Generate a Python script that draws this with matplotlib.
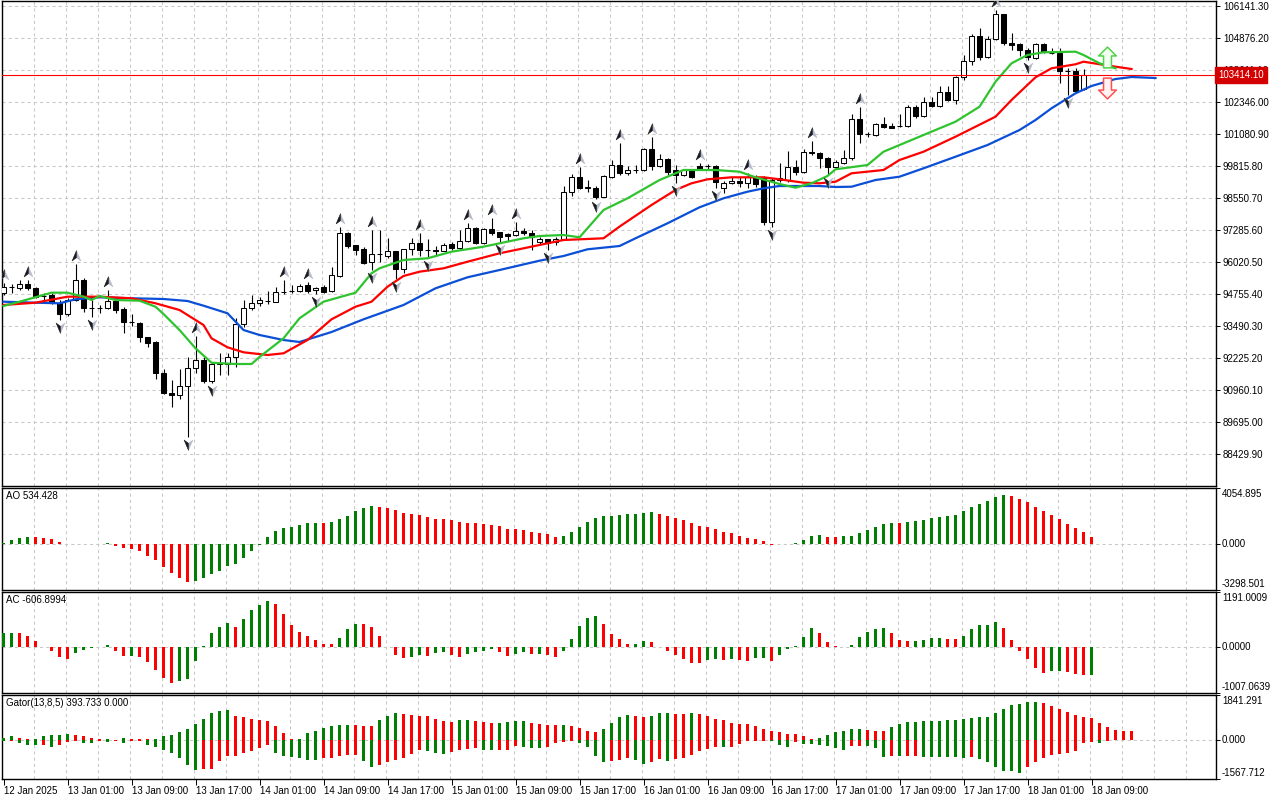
import numpy as np
import matplotlib
matplotlib.use("Agg")
import matplotlib.pyplot as plt
from matplotlib.path import Path
from matplotlib.transforms import offset_copy, blended_transform_factory

plt.rcParams['font.family'] = ['Liberation Sans', 'DejaVu Sans']
plt.rcParams['font.size'] = 7

# ---- hourly candles, 12 Jan 17:00 .. 18 Jan 09:00 ----
opens = [94783, 95030, 94981, 95151, 94981, 94690, 94716, 94400, 93965, 94518,
         95309, 94190, 94210, 94214, 94479, 94162, 93649, 93621, 93055, 92870,
         91633, 90854, 90751, 91119, 91818, 92146, 91328, 92028, 91988, 92277,
         93569, 94190, 94388, 94479, 94451, 94846, 94880, 94874, 95112, 94914,
         95020, 94874, 95467, 97156, 96693, 96523, 96009, 96325, 96270, 96456,
         95732, 96523, 96760, 96495, 96510, 96467, 96720, 96562, 96863, 97353,
         96783, 97326, 97195, 97116, 97088, 97258, 97179, 96799, 96918, 96800,
         96918, 98776, 99393, 98958, 98958, 98602, 99393, 99855, 99527, 99650,
         99658, 100476, 99828, 100080, 99658, 99460, 99658, 99828, 99820, 99828,
         98935, 99132, 99235, 99132, 99393, 99330, 97614, 99262, 99262, 99788,
         99567, 100369, 100318, 100120, 99788, 99946, 100120, 101674, 101069, 101041,
         101464, 101397, 101390, 101397, 102137, 101793, 102334, 102200, 102730, 102425,
         103322, 103979, 104955, 104113, 104825, 105825, 104690, 104627, 104402, 104074,
         104627, 104295, 104295, 103572, 103583, 102848, 103414.1]
highs = [95190, 95151, 95309, 95309, 95020, 94783, 94795, 94518, 94590, 95942,
         95390, 94518, 94330, 94914, 94518, 94240, 93965, 93649, 93070, 92900,
         91790, 91356, 91791, 92277, 93095, 92277, 92080, 92423, 92440, 93807,
         94518, 94716, 94620, 94886, 95044, 95309, 95112, 95151, 95240, 95044,
         95112, 95811, 97393, 97220, 96693, 96620, 97286, 97286, 96958, 96456,
         96523, 96958, 97179, 96918, 96653, 96760, 96820, 97286, 97550, 97393,
         97353, 97750, 97220, 97179, 97590, 97353, 97270, 97021, 96918, 97021,
         99025, 99500, 99788, 99262, 99025, 99460, 100050, 100713, 99800, 99855,
         100516, 100950, 100300, 100120, 99855, 99685, 99685, 99920, 99880, 99855,
         99220, 99393, 99369, 99527, 99460, 99430, 99330, 99920, 100421, 100050,
         100476, 100816, 100380, 100184, 100050, 100450, 101860, 102137, 101170, 101500,
         101770, 101530, 101860, 102230, 102230, 102555, 102555, 102990, 102990, 103375,
         104204, 105022, 105260, 104955, 105983, 105825, 105062, 104690, 104470, 104667,
         104667, 104470, 104470, 103680, 103680, 103640, 103430]
lows = [94716, 94795, 94914, 94914, 94580, 94518, 94360, 93728, 93900, 94479,
        94056, 93858, 94000, 94180, 94000, 93225, 93490, 92870, 92660, 91384,
        90820, 90277, 90605, 89115, 91633, 91250, 91250, 91554, 91554, 91882,
        93451, 94123, 94280, 94360, 94440, 94750, 94807, 94846, 94807, 94750,
        94807, 94830, 95440, 96562, 96297, 95942, 95705, 96020, 96170, 95337,
        95570, 96297, 96260, 96170, 96260, 96456, 96495, 96523, 96820, 96730,
        96730, 97088, 96799, 96863, 97061, 97088, 96495, 96693, 96495, 96693,
        96890, 98630, 98900, 98800, 98500, 98580, 99330, 99460, 99460, 99551,
        99620, 99658, 99788, 99460, 99132, 99430, 99330, 99658, 99658, 98935,
        98730, 99104, 99000, 98935, 99000, 97484, 97416, 99195, 99195, 99460,
        99527, 100250, 99725, 99460, 99725, 99900, 100050, 100737, 100950, 101000,
        101330, 101310, 101370, 101370, 101700, 101765, 102160, 102160, 102400, 102255,
        103216, 103810, 104007, 104074, 104797, 104599, 104402, 104165, 104007, 104030,
        104270, 104230, 103085, 102623, 102750, 102820, 103400]
closes = [95044, 95050, 95151, 94981, 94649, 94670, 94412, 93965, 94518, 95309,
          94190, 94210, 94200, 94479, 94123, 93649, 93660, 93044, 92830, 91620,
          90854, 90751, 91119, 91830, 92146, 91328, 91988, 91990, 92277, 93569,
          94190, 94400, 94518, 94490, 94846, 94850, 94886, 95084, 94886, 95005,
          94846, 95507, 97156, 96653, 96495, 95969, 96325, 96330, 96456, 95732,
          96523, 96760, 96495, 96510, 96467, 96693, 96562, 96863, 97353, 96783,
          97314, 97179, 97021, 97061, 97258, 97179, 97021, 96918, 96783, 96940,
          98800, 99393, 98958, 98970, 98602, 99421, 99855, 99551, 99658, 99665,
          100476, 99828, 100080, 99590, 99460, 99658, 99369, 99697, 99830, 99195,
          99156, 99235, 99132, 99393, 99104, 97614, 99262, 99330, 99788, 99567,
          100381, 100318, 100120, 99788, 99962, 100120, 101674, 101069, 101080, 101464,
          101346, 101330, 101400, 102137, 101793, 102334, 102200, 102730, 102425, 103346,
          103979, 104955, 104113, 104825, 105825, 104667, 104599, 104402, 104137, 104627,
          104335, 104300, 103572, 103560, 102793, 103414.1, 103414.1]

time_labels = ["12 Jan 2025", "13 Jan 01:00", "13 Jan 09:00", "13 Jan 17:00",
               "14 Jan 01:00", "14 Jan 09:00", "14 Jan 17:00", "15 Jan 01:00",
               "15 Jan 09:00", "15 Jan 17:00", "16 Jan 01:00", "16 Jan 09:00",
               "16 Jan 17:00", "17 Jan 01:00", "17 Jan 09:00", "17 Jan 17:00",
               "18 Jan 01:00", "18 Jan 09:00"]
label_bars = [0, 8, 16, 24, 32, 40, 48, 56, 64, 72, 80, 88, 96, 104, 112, 120, 128, 136]

# ---- Alligator lines (bar, value) ----
jaw_bars = [0, 4, 7, 9, 12, 16, 20, 23, 25, 28, 30, 32, 35, 37, 41, 45, 50, 54, 58, 62,
            67, 70, 73, 77, 79, 83, 87, 90, 93, 95, 97, 102, 104, 106, 109, 112, 115, 119,
            123, 127, 129, 131, 134, 136, 139, 141, 144]
jaw = [94451, 94412, 94388, 94546, 94625, 94586, 94558, 94479, 94293, 93993, 93332, 93135,
       92937, 92858, 93253, 93755, 94321, 94981, 95416, 95704, 96072, 96258, 96523, 96653,
       96958, 97551, 98183, 98539, 98800, 98934, 99025, 99025, 98986, 98997, 99262, 99393,
       99725, 100183, 100646, 101239, 101634, 102097, 102690, 102979, 103255, 103334, 103295]
teeth_bars = [0, 4, 8, 12, 16, 19, 22, 25, 26, 28, 30, 33, 35, 38, 41, 44, 46, 48, 50, 52,
              55, 58, 62, 67, 70, 75, 77, 81, 84, 86, 88, 91, 95, 97, 100, 102, 104, 106,
              110, 112, 115, 119, 124, 126, 129, 131, 134, 135, 139, 141]
teeth = [94321, 94412, 94649, 94649, 94586, 94388, 94123, 93530, 93004, 92648, 92451, 92344,
         92411, 92937, 93755, 94253, 94451, 95044, 95467, 95637, 95771, 96032, 96364, 96693,
         96890, 96958, 97420, 98274, 98867, 99132, 99290, 99369, 99369, 99290, 99156, 99132,
         99195, 99527, 99658, 100053, 100381, 100974, 101765, 102425, 103322, 103678, 103837,
         103939, 103742, 103651]
lips_bars = [0, 2, 6, 8, 10, 11, 12, 14, 17, 19, 20, 22, 24, 26, 29, 31, 32, 35, 37, 40,
             44, 46, 47, 50, 53, 56, 60, 65, 67, 70, 72, 75, 78, 82, 85, 89, 92, 94, 97,
             99, 101, 103, 104, 108, 110, 115, 119, 122, 124, 126, 128, 130, 134, 135, 137, 139]
lips = [94281, 94451, 94807, 94807, 94649, 94518, 94676, 94518, 94490, 94253, 93965, 93332,
        92609, 92039, 91988, 91988, 92265, 93004, 93795, 94451, 94807, 95574, 95771, 96100,
        96167, 96428, 96626, 96958, 97048, 97088, 96997, 98076, 98539, 99262, 99658, 99658,
        99590, 99369, 99104, 98958, 99132, 99421, 99685, 99855, 100381, 101041, 101567,
        102160, 103149, 103876, 104204, 104311, 104335, 104204, 103876, 103678]

fractal_up = [0, 3, 9, 13, 24, 35, 38, 42, 46, 52, 58, 61, 64, 72, 77, 81, 87, 93, 101, 107, 124]
fractal_down = [7, 11, 23, 26, 39, 46, 49, 53, 62, 68, 74, 84, 89, 96, 103, 128, 133]

signal_bar = 137.9
signal_up = 104130
signal_down = 102900
last_price = 103414.10

# ---- oscillators ----
ao = [98, 295, 418, 517, 505, 443, 369, 148, 25, 35, 20, 8, 15, 74, -98, -271, -369, -517,
      -812, -1156, -1624, -2066, -2411, -2706, -2632, -2411, -2116, -1894, -1599, -1451,
      -1009, -492, -49, 517, 984, 1181, 1279, 1402, 1550, 1560, 1545, 1574, 1796, 2066,
      2386, 2583, 2731, 2720, 2583, 2435, 2288, 2189, 2091, 1943, 1845, 1820, 1722, 1574,
      1565, 1501, 1451, 1353, 1328, 1107, 1100, 1058, 910, 812, 738, 517, 590, 886, 1255,
      1624, 1919, 2066, 2072, 2140, 2145, 2214, 2288, 2293, 2214, 2066, 1919, 1771, 1550,
      1328, 1255, 1107, 886, 812, 590, 443, 369, 221, -20, -10, 5, 74, 295, 590, 664, 517,
      510, 590, 595, 812, 1033, 1255, 1476, 1550, 1540, 1624, 1697, 1771, 1919, 1993, 2066,
      2140, 2362, 2657, 2878, 3100, 3395, 3542, 3469, 3247, 3026, 2657, 2386, 2140, 1845,
      1476, 1181, 886, 534.428]
ac = [289, 303, 300, 238, 130, -7, -101, -231, -274, -144, -65, -36, -10, 43, -101, -209,
      -205, -231, -339, -513, -671, -794, -751, -693, -318, 7, 303, 433, 520, 433, 606, 801,
      910, 996, 931, 715, 477, 325, 238, 152, 65, 60, 195, 390, 498, 495, 433, 238, -7,
      -188, -253, -231, -188, -209, -144, -123, -188, -231, -166, -123, -101, -58, -123,
      -209, -166, -123, -166, -160, -188, -231, -101, 173, 455, 628, 671, 498, 282, 173, 65,
      70, 130, 108, -7, -101, -188, -274, -361, -365, -296, -274, -296, -274, -296, -318,
      -253, -250, -318, -188, -58, 22, 217, 411, 303, 108, 22, -14, 43, 217, 325, 390, 411,
      303, 152, 130, 135, 152, 195, 200, 173, 170, 238, 390, 477, 480, 542, 411, 152, -101,
      -274, -469, -578, -534, -530, -556, -590, -625, -606.8994]
gator_up = [96, 165, 110, 41, 69, 165, 206, 220, 240, 232, 165, 110, 45, 70, 20, 110, 70, 65,
            40, 60, 165, 206, 357, 453, 646, 852, 1099, 1182, 1223, 976, 934, 852, 811, 769,
            563, 316, 41, 60, 316, 398, 495, 563, 605, 610, 605, 600, 595, 811, 976, 1099,
            1058, 1017, 976, 970, 852, 769, 765, 811, 815, 769, 728, 687, 690, 728, 769, 775,
            687, 646, 640, 605, 610, 600, 522, 398, 350, 467, 714, 962, 1044, 1003, 962, 1003,
            1127, 1130, 1085, 1080, 1127, 1085, 1003, 879, 838, 714, 673, 670, 591, 467, 385,
            343, 261, 255, 179, 55, 96, 220, 343, 385, 467, 481, 426, 385, 380, 536, 673, 756,
            760, 769, 797, 800, 838, 842, 879, 907, 962, 965, 1127, 1292, 1429, 1456, 1539,
            1566, 1511, 1415, 1292, 1168, 1044, 962, 893, 714, 550, 426, 400, 393.733]
gator_down = [-41, -14, -96, -179, -206, -185, -261, -179, -82, -27, -96, -124, -41, -69, -41,
              -124, -41, -38, -179, -275, -371, -508, -701, -989, -1195, -1154, -1150, -838,
              -632, -618, -508, -426, -302, -179, -508, -618, -673, -701, -783, -790, -714,
              -710, -646, -591, -577, -824, -1072, -989, -866, -783, -714, -550, -371, -440,
              -508, -550, -467, -371, -344, -316, -371, -398, -390, -371, -234, -261, -302,
              -316, -261, -124, -55, -27, -90, -261, -618, -879, -838, -797, -714, -797, -962,
              -879, -756, -838, -769, -714, -591, -412, -343, -275, -280, -275, -137, -14, -10,
              -8, -41, -179, -289, -82, -137, -151, -179, -220, -316, -385, -220, -215, -247,
              -316, -660, -632, -640, -632, -628, -660, -665, -670, -675, -687, -728, -660,
              -756, -866, -1099, -1250, -1255, -1305, -1099, -893, -728, -605, -550, -522,
              -450, -120, -82, -95, -20, 0]

GREEN = '#008000'
RED = '#ff0000'
GRID = '#c8c8c8'


def rising(vals, absolute=False):
    v = np.asarray(vals, dtype=float)
    if absolute:
        v = np.abs(v)
    out = [GREEN]
    for a, b in zip(v[:-1], v[1:]):
        out.append(GREEN if b > a else RED)
    return out


W, H = 1280, 800


def box(left, top, right, bottom):
    return [left / W, 1 - bottom / H, (right - left) / W, (bottom - top) / H]


fig = plt.figure(figsize=(12.8, 8), dpi=100)
ax = fig.add_axes(box(2, 1, 1216, 486))
ax_ao = fig.add_axes(box(2, 488, 1216, 590), sharex=ax)
ax_ac = fig.add_axes(box(2, 592, 1216, 693), sharex=ax)
ax_g = fig.add_axes(box(2, 695, 1216, 779), sharex=ax)

bars = np.arange(len(closes))
o = np.array(opens, float)
h = np.array(highs, float)
l = np.array(lows, float)
c = np.array(closes, float)
bull = c >= o

# grid
grid_x = np.arange(4, 152, 4) - 0.1875
price_ticks = [106141.30 - 1265.1 * k for k in range(15)]
for a in (ax, ax_ao, ax_ac, ax_g):
    for gx in grid_x:
        a.axvline(gx, color=GRID, lw=0.75, ls=(0, (3, 3)), zorder=0)
for p in price_ticks:
    ax.axhline(p, color=GRID, lw=0.75, ls=(0, (3, 3)), zorder=0)

# candles
ax.vlines(bars, l, h, color='black', lw=0.8, zorder=2)
ax.bar(bars, np.abs(c - o), bottom=np.minimum(o, c), width=0.6,
       color=np.where(bull, 'white', 'black'), edgecolor='black', linewidth=0.75, zorder=3)

# alligator
ax.plot(jaw_bars, jaw, color='#0a4fd6', lw=1.6, zorder=4)
ax.plot(teeth_bars, teeth, color='#ff0000', lw=1.6, zorder=4)
ax.plot(lips_bars, lips, color='#2fc42f', lw=1.6, zorder=4)

# fractals
arrow_up = Path([(0, 1), (0.75, -0.75), (0, -0.2), (-0.75, -0.75), (0, 1)],
                [Path.MOVETO, Path.LINETO, Path.LINETO, Path.LINETO, Path.CLOSEPOLY])
half_up = Path([(0, 1), (0, -0.2), (-0.75, -0.75), (0, 1)],
               [Path.MOVETO, Path.LINETO, Path.LINETO, Path.CLOSEPOLY])
flip = lambda pth: Path(pth.vertices * [1, -1], pth.codes)
up_tr = offset_copy(ax.transData, fig=fig, y=8, units='dots')
dn_tr = offset_copy(ax.transData, fig=fig, y=-7, units='dots')
fu = np.array(fractal_up)
fd = np.array(fractal_down)
for mk, col in ((arrow_up, '#b4b8c8'), (half_up, '#1a1a1a')):
    ax.plot(fu, h[fu], ls='none', marker=mk, ms=8.5, mfc=col, mec=col, mew=0.3,
            transform=up_tr, zorder=5)
for mk, col in ((flip(arrow_up), '#b4b8c8'), (flip(half_up), '#1a1a1a')):
    ax.plot(fd, l[fd], ls='none', marker=mk, ms=8.5, mfc=col, mec=col, mew=0.3,
            transform=dn_tr, zorder=5)

# block arrows near the last bar
block_up = Path([(0, 1), (0.85, 0.15), (0.38, 0.15), (0.38, -1), (-0.38, -1),
                 (-0.38, 0.15), (-0.85, 0.15), (0, 1)],
                [Path.MOVETO] + [Path.LINETO] * 6 + [Path.CLOSEPOLY])
ax.plot([signal_bar], [signal_up], marker=block_up, ms=15, mfc='#f2fff0', mec='#52d24a',
        mew=1.1, zorder=6)
ax.plot([signal_bar], [signal_down], marker=flip(block_up), ms=15, mfc='#fff2f2',
        mec='#ff5050', mew=1.1, zorder=6)

# current price
ax.axhline(last_price, color='#ff0000', lw=0.8, zorder=4)
tr = blended_transform_factory(ax.transAxes, ax.transData)
ax.text(1.0015, last_price, f"{last_price:.2f}", transform=tr, ha='left', va='center',
        color='white', fontsize=7, zorder=10, clip_on=False,
        bbox=dict(boxstyle='square,pad=0.32', fc='#d40000', ec='#d40000'))

ax.set_ylim(87165, 106339)
ax.set_yticks(price_ticks)
ax.set_yticklabels([f"{p:.2f}" for p in price_ticks])
ax.set_xlim(-0.19, 151.56)

# oscillators
ax_ao.bar(bars, ao, width=0.45, color=rising(ao), zorder=3)
ax_ac.bar(bars, ac, width=0.45, color=rising(ac), zorder=3)
ax_g.bar(np.arange(len(gator_up)), gator_up, width=0.45,
         color=rising(gator_up, True), zorder=3)
ax_g.bar(np.arange(len(gator_down)), gator_down, width=0.45,
         color=rising(gator_down, True), zorder=3)

panels = [
    (ax_ao, (-3298.501, 4054.895), ["-3298.501", "0.000", "4054.895"], "AO 534.428"),
    (ax_ac, (-1007.0639, 1191.0009), ["-1007.0639", "0.0000", "1191.0009"], "AC -606.8994"),
    (ax_g, (-1567.712, 1841.291), ["-1567.712", "0.000", "1841.291"], "Gator(13,8,5) 393.733 0.000"),
]
for a, (lo, hi), labs, title in panels:
    a.axhline(0, color=GRID, lw=0.75, ls=(0, (3, 3)), zorder=1)
    a.set_ylim(lo, hi)
    a.set_yticks([lo, 0, hi])
    a.set_yticklabels([])
    lab_tr = offset_copy(blended_transform_factory(a.transAxes, a.transData),
                         fig=fig, x=6, units='dots')
    for val, txt, va, dy in zip((lo, 0, hi), labs, ('bottom', 'center', 'top'), (1, 0, -1)):
        a.text(1.0, val, txt, transform=offset_copy(lab_tr, fig=fig, y=dy, units='dots'),
               ha='left', va=va, fontsize=7, clip_on=False)
    a.annotate(title, xy=(0, 1), xycoords='axes fraction', xytext=(4, -3),
               textcoords='offset pixels', ha='left', va='top', fontsize=7)

for a in (ax, ax_ao, ax_ac, ax_g):
    a.yaxis.tick_right()
    a.tick_params(axis='y', direction='out', length=3, width=0.7, pad=2,
                  labelsize=7, colors='black')
    a.tick_params(axis='x', bottom=False, labelbottom=False)
    for s in a.spines.values():
        s.set_linewidth(1.0)
        s.set_color('black')

ax_g.set_xticks(label_bars)
ax_g.set_xticklabels(time_labels)
ax_g.tick_params(axis='x', bottom=True, labelbottom=True, direction='out', length=4,
                 width=0.7, pad=1, labelsize=7)
for t in ax_g.get_xticklabels():
    t.set_horizontalalignment('left')

fig.savefig("out.png", dpi=100, facecolor='white')
